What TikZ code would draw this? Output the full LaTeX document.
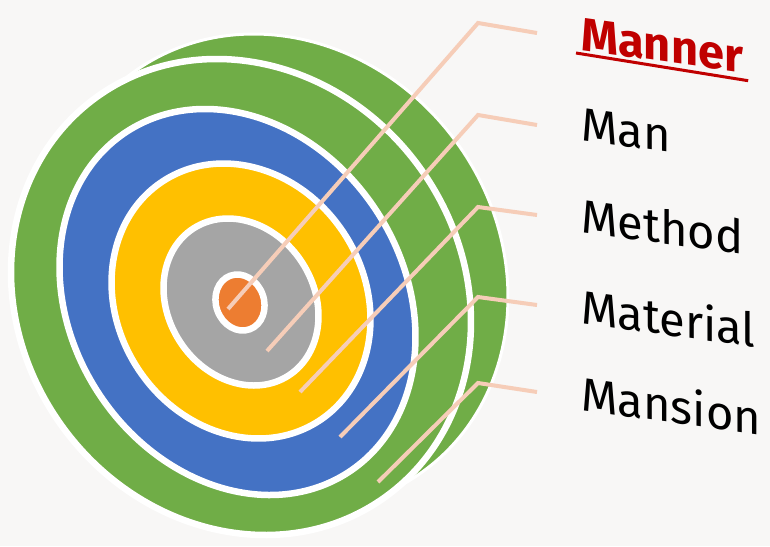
\documentclass[tikz,border=0pt]{standalone}
\usepackage{fontspec}
\setmainfont{Fira Sans}
\usetikzlibrary{calc}
\definecolor{bgc}{HTML}{F8F7F6}
\definecolor{cgreen}{HTML}{70AD47}
\definecolor{cblue}{HTML}{4472C4}
\definecolor{cyellow}{HTML}{FFC000}
\definecolor{cgray}{HTML}{A5A5A5}
\definecolor{corange}{HTML}{ED7D31}
\definecolor{cpeach}{HTML}{F6CDB8}
\definecolor{cred}{HTML}{C00000}
\begin{document}
\begin{tikzpicture}[x=1pt,y=-1pt,
  ring/.style={fill=#1, draw=white, line width=6.5pt},
  lead/.style={draw=cpeach, line width=4pt},
  lbl/.style={anchor=base west, yslant=-0.14, inner sep=0pt, font=\fontsize{47}{50}\selectfont, text=black}]
\fill[bgc] (0,0) rectangle (770,546);
\useasboundingbox (0,0) rectangle (770,546);
% back green rim
\path[ring=cgreen, line width=3pt, rotate around={36:(278,272)}] (278,272) ellipse [x radius=220.7pt, y radius=246.6pt];
% front green
\path[ring=cgreen, rotate around={36:(241,297)}] (241,297) ellipse [x radius=220.7pt, y radius=246.6pt];
% blue
\path[ring=cblue, rotate around={33:(237.5,302)}] (237.5,302) ellipse [x radius=166.2pt, y radius=203.2pt];
% yellow
\path[ring=cyellow, rotate around={33:(241,301)}] (241,301) ellipse [x radius=123.3pt, y radius=143pt];
% gray
\path[ring=cgray, rotate around={33:(241,302)}] (241,302) ellipse [x radius=72.8pt, y radius=87.6pt];
% orange
\path[ring=corange, rotate around={20:(240,302.5)}] (240,302.5) ellipse [x radius=24pt, y radius=28.5pt];

% connector points
\coordinate (s1) at (228,309);
\coordinate (s2) at (267,351);
\coordinate (s3) at (300,392);
\coordinate (s4) at (340,437);
\coordinate (s5) at (378,482);
\coordinate (k1) at (478,23);
\coordinate (k2) at (478,115);
\coordinate (k3) at (478,207);
\coordinate (k4) at (478,297);
\coordinate (k5) at (478,383);
\coordinate (e1) at (537,33);
\coordinate (e2) at (537,125);
\coordinate (e3) at (537,215);
\coordinate (e4) at (537,305);
\coordinate (e5) at (537,392);
\foreach \i in {1,...,5}{\draw[lead] (s\i) -- (k\i) -- (e\i);}

% labels
\node[lbl, text=cred, font=\fontsize{47}{50}\selectfont\bfseries] (manner) at (581,50) {Manner};
\node[lbl] (man) at (581,140) {Man};
\node[lbl] (method) at (581,232) {Method};
\node[lbl] (material) at (581,323) {Material};
\node[lbl] (mansion) at (581,410) {Mansion};
\draw[cred, line width=3pt] ($(manner.base west)+(-5,3)$) -- ($(manner.base east)+(5,8)$);
\end{tikzpicture}
\end{document}
